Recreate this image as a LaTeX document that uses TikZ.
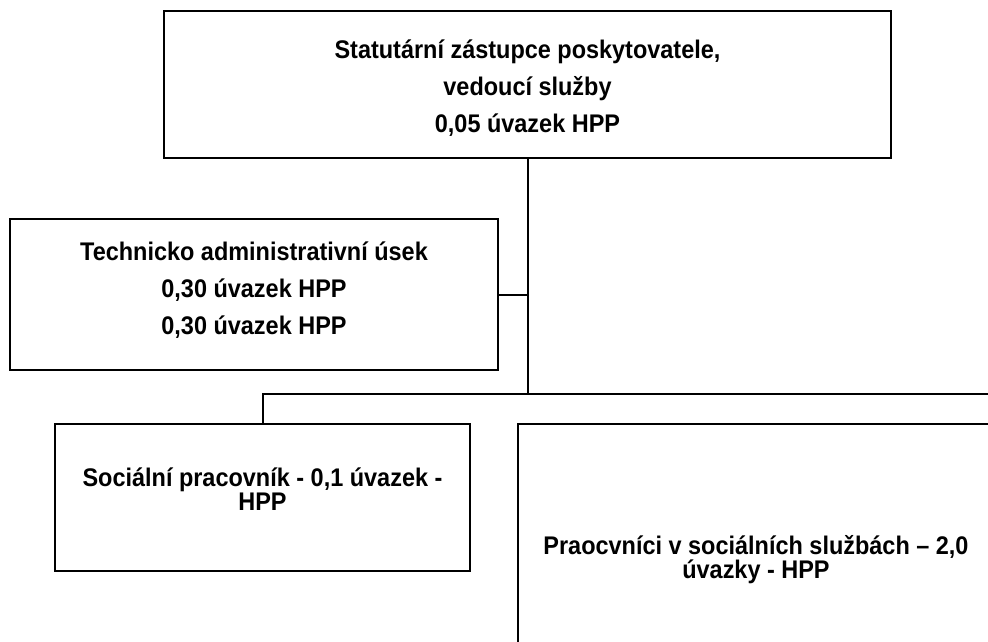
\documentclass[tikz,border=0pt]{standalone}
\usepackage{fontspec}
\newfontfamily\orgfont[FakeStretch=0.92]{Liberation Sans}
\usepackage{tikz}
\usetikzlibrary{positioning, calc}

\tikzset{
  unitbox/.style={rectangle,draw=black,line width=2pt,align=center,inner sep=0pt},
  widespace/.style={font=\orgfont\bfseries\fontsize{25.5}{37}\selectfont},
  tightspace/.style={font=\orgfont\bfseries\fontsize{25.5}{22}\selectfont},
  link/.style={line width=2pt}
}

\begin{document}
\begin{tikzpicture}[x=1pt,y=-1pt]
      \useasboundingbox (0,0) rectangle (988,641);
      \clip (0,0) rectangle (988,641);
      \node[unitbox,widespace,minimum width=727pt,minimum height=147pt,text height=100pt]
            (top) at(527.5,84.5){Statutární zástupce poskytovatele,\\vedoucí služby\\0,05 úvazek HPP};
      \node[unitbox,widespace,minimum width=488pt,minimum height=151pt,text depth=12pt]
            (tech) at(254,294.5){Technicko administrativní úsek\\0,30 úvazek HPP\\0,30 úvazek HPP};
      \node[unitbox,tightspace,minimum width=415pt,minimum height=147pt,text depth=17pt]
            (social) at(262.5,497.5){Sociální pracovník - 0,1 úvazek -\\HPP};
      \node[unitbox,tightspace,minimum width=476pt,minimum height=278pt,text depth=12pt]
            (workers) at(756,563){Praocvníci v sociálních službách – 2,0\\úvazky - HPP};
      \coordinate (bus) at(527.5,394);
      \coordinate (busend) at(995,394);
      \draw[link](top.south)--(bus);
      \draw[link](tech.east)--(tech.east -| bus);
      \draw[link](social.north)|-(busend);
    \end{tikzpicture}
\end{document}
